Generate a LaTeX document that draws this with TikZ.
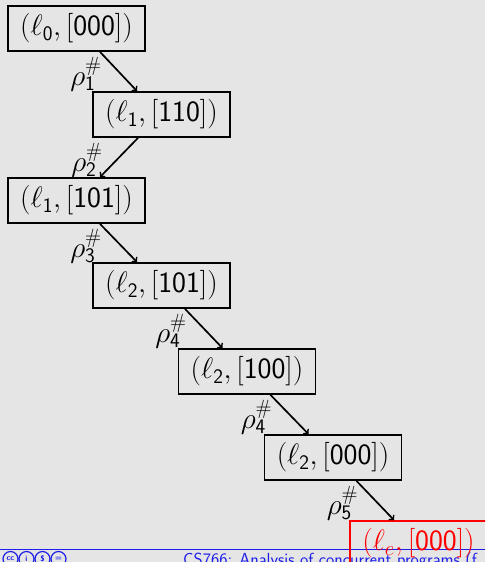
\RequirePackage{fix-cm}
\documentclass[tikz,border=0pt]{standalone}
\usetikzlibrary{calc}
\definecolor{bg}{RGB}{229,229,229}
\definecolor{footblue}{RGB}{30,30,235}
\tikzset{
  state/.style={draw=black, line width=1.8pt, minimum width=137pt, minimum height=45pt, inner sep=0pt, font=\fontsize{29.5}{34}\selectfont},
  final/.style={state, draw=red, text=red},
  arr/.style={->, line width=1.7pt},
  lab/.style={inner sep=0pt, font=\fontsize{29.5}{34}\selectfont},
  ccicon/.style={draw=footblue, line width=1.2pt, circle, minimum size=15pt, inner sep=0pt, text=footblue, font=\fontsize{8}{8}\sffamily\bfseries}
}
\newcommand{\st}[2]{$\mathsf{(}\ell_{#1},\mathsf{[#2])}$}
\newcommand{\rh}[1]{$\rho^{\#}_{\mathsf{#1}}$}
\begin{document}
\begin{tikzpicture}[x=1pt,y=-1pt]
\useasboundingbox (0,0) rectangle (485,562);
\fill[bg] (0,0) rectangle (485,562);
\clip (0,0) rectangle (485,562);
% footer
\draw[footblue, line width=1pt] (0,549) -- (485,549);
\node[anchor=base west, inner sep=0pt, text=footblue, font=\fontsize{17.5}{19}\sffamily] (foot) at (183,565) {CS766: Analysis of concurrent programs (f};
\node[ccicon] (cc1) at (10.5,559) {cc};
\node[ccicon] (cc2) at (26.5,559) {i};
\node[ccicon] (cc3) at (42.5,559) {\$};
\node[ccicon] (cc4) at (58.5,559) {=};
% states
\node[state] (n1) at (76.5,28.5) {\st{\mathsf{0}}{000}};
\node[state] (n2) at (161.5,114.5) {\st{\mathsf{1}}{110}};
\node[state] (n3) at (76.5,200.5) {\st{\mathsf{1}}{101}};
\node[state] (n4) at (161.5,285.5) {\st{\mathsf{2}}{101}};
\node[state] (n5) at (247,371.5) {\st{\mathsf{2}}{100}};
\node[state] (n6) at (333,457.5) {\st{\mathsf{2}}{000}};
\node[final] (n7) at (418.5,543.5) {\st{e}{000}};
% arrows
\draw[arr] ([xshift=23.5pt]n1.south) -- ([xshift=-24.5pt]n2.north);
\draw[arr] ([xshift=-23.5pt]n2.south) -- ([xshift=23.5pt]n3.north);
\draw[arr] ([xshift=23.5pt]n3.south) -- ([xshift=-24.5pt]n4.north);
\draw[arr] ([xshift=23.5pt]n4.south) -- ([xshift=-24.5pt]n5.north);
\draw[arr] ([xshift=23.5pt]n5.south) -- ([xshift=-24.5pt]n6.north);
\draw[arr] ([xshift=23.5pt]n6.south) -- ([xshift=-24.5pt]n7.north);
% labels
\node[lab] (r1) at (86,74) {\rh{1}};
\node[lab] (r2) at (87,160) {\rh{2}};
\node[lab] (r3) at (86,246) {\rh{3}};
\node[lab] (r4) at (171,331) {\rh{4}};
\node[lab] (r5) at (256.5,417) {\rh{4}};
\node[lab] (r6) at (342.5,503) {\rh{5}};
\end{tikzpicture}
\end{document}
